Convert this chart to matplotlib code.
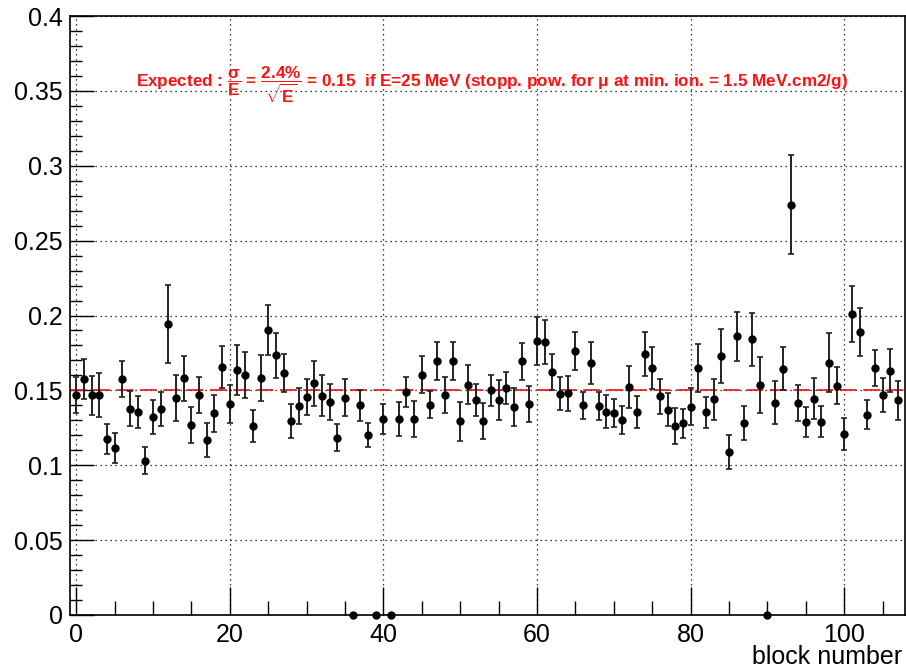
import matplotlib
matplotlib.use("Agg")
import matplotlib.pyplot as plt
from matplotlib.ticker import MultipleLocator
import numpy as np

plt.rcParams['font.family'] = ['Liberation Sans', 'DejaVu Sans']
plt.rcParams['mathtext.fontset'] = 'custom'
plt.rcParams['mathtext.rm'] = 'Liberation Sans:bold'
plt.rcParams['mathtext.it'] = 'Liberation Sans:bold'
plt.rcParams['mathtext.bf'] = 'Liberation Sans:bold'
plt.rcParams['mathtext.sf'] = 'Liberation Sans:bold'

blocks = list(range(108))
sigma_over_e = [
    0.1467, 0.1576, 0.1467, 0.1470, 0.1173, 0.1116, 0.1576, 0.1378, 0.1358, 0.1031,
    0.1322, 0.1373, 0.1942, 0.1451, 0.1580, 0.1269, 0.1470, 0.1167, 0.1347, 0.1656,
    0.1407, 0.1636, 0.1604, 0.1262, 0.1584, 0.1902, 0.1733, 0.1618, 0.1293, 0.1396,
    0.1456, 0.1547, 0.1464, 0.1424, 0.1184, 0.1451, 0.0, 0.1400, 0.1202, 0.0,
    0.1307, 0.0, 0.1311, 0.1489, 0.1309, 0.1604, 0.1404, 0.1698, 0.1467, 0.1698,
    0.1293, 0.1538, 0.1438, 0.1296, 0.1500, 0.1433, 0.1516, 0.1391, 0.1693, 0.1409,
    0.1829, 0.1822, 0.1622, 0.1478, 0.1482, 0.1764, 0.1400, 0.1682, 0.1398, 0.1358,
    0.1349, 0.1300, 0.1524, 0.1356, 0.1744, 0.1651, 0.1460, 0.1371, 0.1262, 0.1280,
    0.1391, 0.1647, 0.1353, 0.1440, 0.1729, 0.1089, 0.1862, 0.1282, 0.1840, 0.1536,
    0.0, 0.1418, 0.1644, 0.2740, 0.1416, 0.1289, 0.1444, 0.1291, 0.1684, 0.1531,
    0.1211, 0.2011, 0.1891, 0.1336, 0.1649, 0.1469, 0.1631, 0.1433,
]
errors = [
    0.0120, 0.0133, 0.0130, 0.0146, 0.0100, 0.0102, 0.0120, 0.0118, 0.0106, 0.0090,
    0.0113, 0.0113, 0.0262, 0.0154, 0.0150, 0.0122, 0.0120, 0.0114, 0.0124, 0.0138,
    0.0127, 0.0164, 0.0152, 0.0104, 0.0154, 0.0169, 0.0150, 0.0126, 0.0114, 0.0122,
    0.0118, 0.0150, 0.0138, 0.0119, 0.0089, 0.0124, 0.0, 0.0103, 0.0078, 0.0,
    0.0101, 0.0, 0.0113, 0.0102, 0.0121, 0.0124, 0.0091, 0.0127, 0.0119, 0.0127,
    0.0130, 0.0132, 0.0107, 0.0122, 0.0106, 0.0133, 0.0110, 0.0128, 0.0123, 0.0121,
    0.0159, 0.0149, 0.0120, 0.0112, 0.0117, 0.0126, 0.0092, 0.0142, 0.0094, 0.0109,
    0.0091, 0.0094, 0.0141, 0.0106, 0.0148, 0.0140, 0.0119, 0.0110, 0.0117, 0.0098,
    0.0124, 0.0161, 0.0104, 0.0137, 0.0182, 0.0114, 0.0164, 0.0113, 0.0174, 0.0184,
    0.0, 0.0142, 0.0144, 0.0330, 0.0120, 0.0103, 0.0136, 0.0102, 0.0196, 0.0123,
    0.0106, 0.0189, 0.0159, 0.0097, 0.0120, 0.0116, 0.0142, 0.0129,
]
expected = 0.15
x_ticks = [0, 20, 40, 60, 80, 100]
y_ticks = [0, 0.05, 0.1, 0.15, 0.2, 0.25, 0.3, 0.35, 0.4]
y_ticklabels = ["0", "0.05", "0.1", "0.15", "0.2", "0.25", "0.3", "0.35", "0.4"]
annotation = (r"Expected : $\dfrac{\sigma}{E}$ = $\dfrac{2.4\%}{\sqrt{E}}$ = 0.15  if E=25 MeV "
              r"(stopp. pow. for $\mu$ at min. ion. = 1.5 MeV.cm2/g)")

fig = plt.figure(figsize=(9.06, 6.70), dpi=100)
ax = fig.add_axes([70 / 906, 1 - 615 / 670, 835 / 906, (615 - 16) / 670])

ax.set_xlim(-0.8, 107.9)
ax.set_ylim(0, 0.4)

ax.grid(True, which='major', color='black', linestyle=(0, (1, 3)), linewidth=0.9)
ax.set_axisbelow(True)

ax.axhline(expected, color='#ee1111', linestyle=(0, (10, 4)), linewidth=1.2, zorder=2)

ax.errorbar(blocks, sigma_over_e, yerr=errors, fmt='o', color='black',
            ecolor='#222222', elinewidth=1.4, capsize=2.2, capthick=1.2,
            markersize=5, zorder=3, clip_on=False)

ax.set_xticks(x_ticks)
ax.set_xticklabels([str(t) for t in x_ticks])
ax.xaxis.set_minor_locator(MultipleLocator(5))
ax.set_yticks(y_ticks)
ax.set_yticklabels(y_ticklabels)
ax.yaxis.set_minor_locator(MultipleLocator(0.01))

ax.tick_params(axis='both', which='both', direction='in', top=False, right=False,
               labelsize=18, width=1.0)
ax.tick_params(axis='x', which='major', length=20, pad=6)
ax.tick_params(axis='x', which='minor', length=10)
ax.tick_params(axis='y', which='major', length=17, pad=5)
ax.tick_params(axis='y', which='minor', length=8.5)

for s in ax.spines.values():
    s.set_linewidth(1.2)

fig.text(902 / 906, 1 - 664 / 670, "block number", fontsize=18,
         ha='right', va='baseline')

ax.text(7.8, 0.354, annotation, color='#ff1111', fontsize=12.3, fontweight='bold',
        ha='left', va='center')

fig.savefig("out.png", dpi=100)
